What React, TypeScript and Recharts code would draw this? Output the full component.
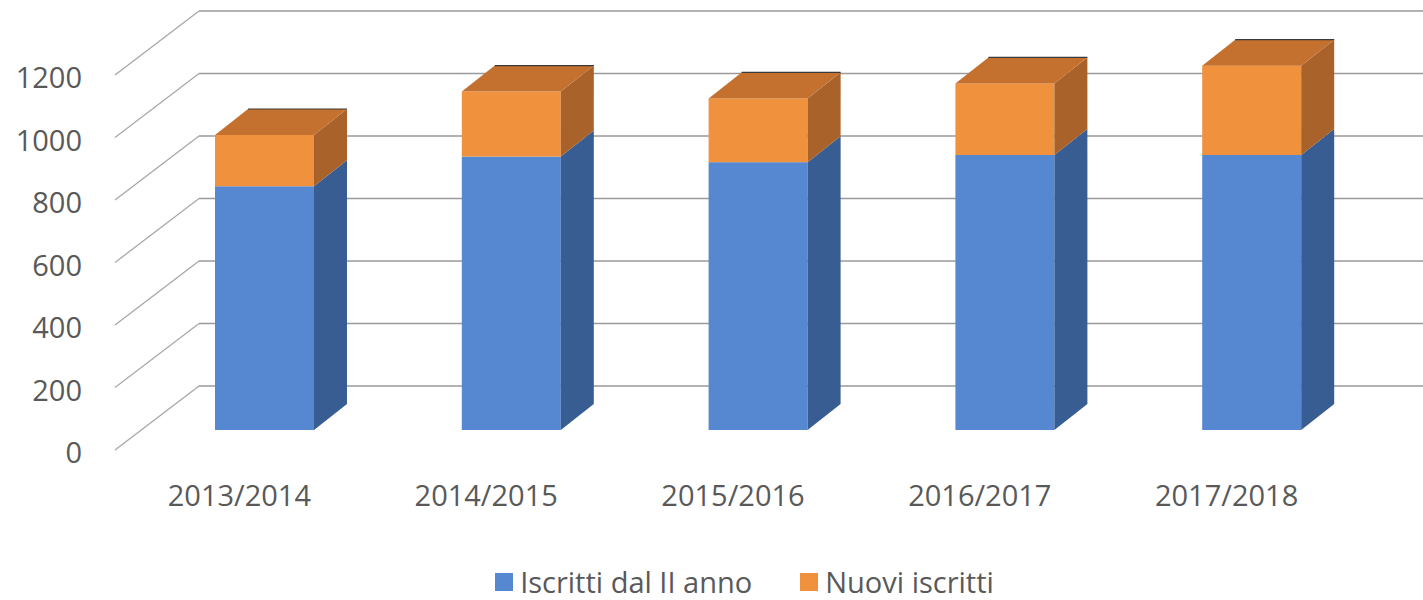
import { BarChart, Bar, XAxis, YAxis, CartesianGrid } from "recharts";

const categories = ["2013/2014", "2014/2015", "2015/2016", "2016/2017", "2017/2018"];
const iscrittiDalII = [780, 875, 857, 880, 880];
const nuoviIscritti = [164, 208, 204, 229, 286];
const yTicks = [0, 200, 400, 600, 800, 1000, 1200];

const seriesNames = ["Iscritti dal II anno", "Nuovi iscritti"];
const seriesColors = ["#5687D1", "#F0913D"];

const data = categories.map((anno, i) => ({
  anno,
  iscrittiDalII: iscrittiDalII[i],
  nuoviIscritti: nuoviIscritti[i],
}));

// 3d offsets (px) relative to the bar plane
const BAR_DX = 33;
const BAR_DY = 26;
const FRONT_DX = -26;
const FRONT_DY = 20;
const BACK_DX = 58;
const BACK_DY = -44;

const FONT = "'Open Sans', sans-serif";
const TEXT = "#595959";

const BLUE_SIDE = "#385D93";
const ORANGE_SIDE = "#A8622A";
const ORANGE_TOP = "#C4702F";

function BlueBox(props: any) {
  const { x, y, width, height } = props;
  if (height == null || height <= 0) return null;
  const r = x + width;
  return (
    <g>
      <rect x={x} y={y} width={width} height={height} fill={seriesColors[0]} />
      <polygon
        points={`${r},${y} ${r + BAR_DX},${y - BAR_DY} ${r + BAR_DX},${y + height - BAR_DY} ${r},${y + height}`}
        fill={BLUE_SIDE}
      />
    </g>
  );
}

function OrangeBox(props: any) {
  const { x, y, width, height } = props;
  if (height == null || height <= 0) return null;
  const r = x + width;
  return (
    <g>
      <rect x={x} y={y} width={width} height={height} fill={seriesColors[1]} />
      <polygon
        points={`${r},${y} ${r + BAR_DX},${y - BAR_DY} ${r + BAR_DX},${y + height - BAR_DY} ${r},${y + height}`}
        fill={ORANGE_SIDE}
      />
      <polygon
        points={`${x},${y} ${x + BAR_DX},${y - BAR_DY} ${r + BAR_DX},${y - BAR_DY} ${r},${y}`}
        fill={ORANGE_TOP}
      />
      <line x1={x + BAR_DX} y1={y - BAR_DY} x2={r + BAR_DX} y2={y - BAR_DY} stroke="#3a3a3a" strokeWidth={1.2} />
    </g>
  );
}

function gridLine(p: any) {
  const y = p.y1;
  return (
    <g key={`grid-${p.index}`}>
      <line
        x1={p.x1 + FRONT_DX}
        y1={y + FRONT_DY}
        x2={p.x1 + BACK_DX}
        y2={y + BACK_DY}
        stroke="#a8a8a8"
        strokeWidth={1.3}
      />
      <line
        x1={p.x1 + BACK_DX}
        y1={y + BACK_DY}
        x2={p.x2 + BACK_DX}
        y2={y + BACK_DY}
        stroke="#9a9a9a"
        strokeWidth={1.6}
      />
    </g>
  );
}

function YTick(props: any) {
  const { y, payload } = props;
  return (
    <text x={82} y={y + FRONT_DY + 13} textAnchor="end" fill={TEXT} fontSize={29} fontFamily={FONT}>
      {payload.value}
    </text>
  );
}

function XTick(props: any) {
  const { x, payload } = props;
  return (
    <text x={x + FRONT_DX + 1} y={506} textAnchor="middle" fill={TEXT} fontSize={29} fontFamily={FONT}>
      {payload.value}
    </text>
  );
}

export default function App() {
  return (
    <div style={{ position: "absolute", left: 0, top: 0, width: 1423, height: 600, background: "#fff", overflow: "hidden" }}>
      <BarChart
        width={1423}
        height={600}
        data={data}
        margin={{ top: 55, right: 48, left: 81, bottom: 140 }}
      >
        <CartesianGrid vertical={false} horizontal={gridLine} />
        <XAxis dataKey="anno" axisLine={false} tickLine={false} tick={<XTick />} height={30} />
        <YAxis
          domain={[0, 1200]}
          ticks={yTicks}
          axisLine={false}
          tickLine={false}
          tick={<YTick />}
          width={60}
        />
        <Bar dataKey="iscrittiDalII" stackId="a" barSize={99} shape={<BlueBox />} isAnimationActive={false} />
        <Bar dataKey="nuoviIscritti" stackId="a" barSize={99} shape={<OrangeBox />} isAnimationActive={false} />
      </BarChart>
      <div
        style={{
          position: "absolute",
          top: 562,
          left: 0,
          width: 1423,
          display: "flex",
          justifyContent: "center",
          paddingLeft: 66,
          boxSizing: "border-box",
          fontFamily: FONT,
          fontSize: 29,
          color: TEXT,
          lineHeight: "40px",
        }}
      >
        {seriesNames.map((name, i) => (
          <div key={name} style={{ display: "flex", alignItems: "center", marginLeft: i ? 48 : 0 }}>
            <span style={{ width: 18, height: 18, background: seriesColors[i], marginRight: 7, display: "inline-block" }} />
            <span>{name}</span>
          </div>
        ))}
      </div>
    </div>
  );
}
